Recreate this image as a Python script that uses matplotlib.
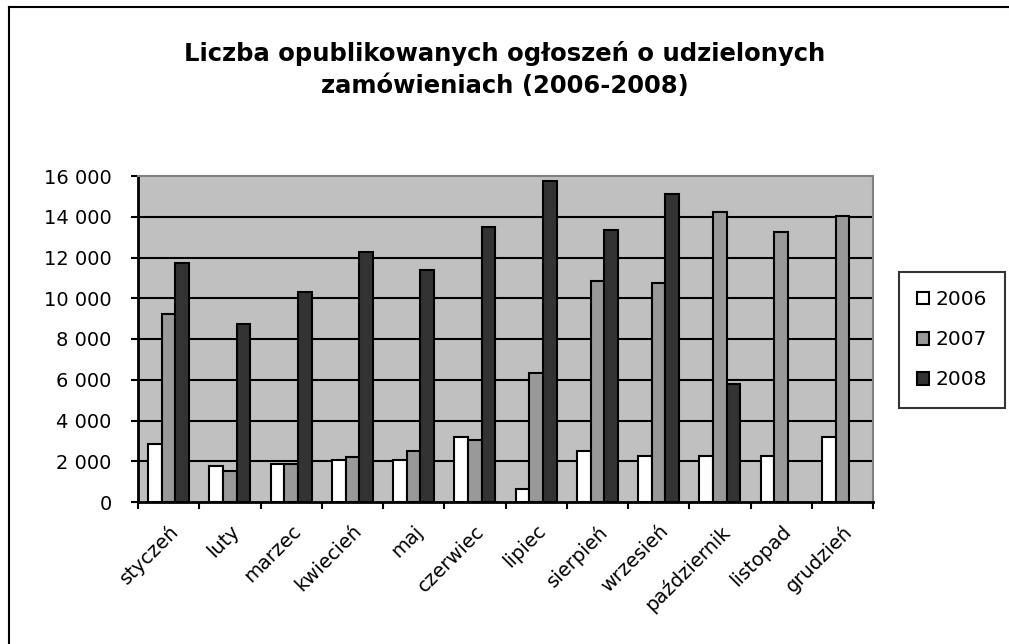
import numpy as np
import matplotlib
matplotlib.use("Agg")
import matplotlib.pyplot as plt
from matplotlib.lines import Line2D
from matplotlib.ticker import FuncFormatter

# Data
months = ["styczeń", "luty", "marzec", "kwiecień", "maj", "czerwiec",
          "lipiec", "sierpień", "wrzesień", "październik", "listopad", "grudzień"]
years = ["2006", "2007", "2008"]
v2006 = [2850, 1770, 1850, 2080, 2080, 3170, 620, 2520, 2280, 2280, 2280, 3170]
v2007 = [9210, 1520, 1850, 2190, 2520, 3060, 6350, 10830, 10730, 14230, 13250, 14020]
v2008 = [11730, 8750, 10310, 12290, 11400, 13480, 15770, 13370, 15130, 5810, np.nan, np.nan]

colors = ["#FFFFFF", "#999999", "#333333"]

plt.rcParams['font.family'] = ['DejaVu Sans']

W, H = 1009, 644
fig = plt.figure(figsize=(W / 100, H / 100), dpi=100)
fig.patch.set_facecolor("white")

# outer frame (left and top edges visible)
fig.add_artist(Line2D([8.5 / W, 8.5 / W], [0, 1 - 6.5 / H], transform=fig.transFigure, color="black", lw=1.5))
fig.add_artist(Line2D([8.5 / W, 1], [1 - 6.5 / H, 1 - 6.5 / H], transform=fig.transFigure, color="black", lw=1.5))

ax = fig.add_axes([138 / W, 1 - 502 / H, 735 / W, 326 / H])
ax.set_facecolor("#C0C0C0")

x = np.arange(len(months))
bw = 1 / 4.5
for i, (vals, c) in enumerate(zip([v2006, v2007, v2008], colors)):
    ax.bar(x + (i - 1) * bw, vals, width=bw, color=c, edgecolor="black",
           linewidth=1.5, label=years[i], zorder=3)

ax.set_xlim(-0.5, len(months) - 0.5)
ax.set_ylim(0, 16000)
ax.set_yticks(np.arange(0, 16001, 2000))
ax.yaxis.set_major_formatter(FuncFormatter(lambda v, p: f"{int(v):,}".replace(",", " ")))
for yv in range(2000, 16000, 2000):
    ax.axhline(yv, color="black", lw=1.5, zorder=1)

ax.set_xticks(x)
ax.set_xticklabels(months, rotation=45, ha="right", rotation_mode="anchor", fontsize=14)
ax.set_xticks(np.arange(-0.5, len(months), 1), minor=True)
ax.tick_params(axis="x", which="major", length=0, pad=14)
ax.tick_params(axis="x", which="minor", length=5, width=1.5, direction="out")
ax.tick_params(axis="y", length=5, width=1.5, direction="out", labelsize=14, pad=14)

for s in ["left", "bottom"]:
    ax.spines[s].set_color("black")
    ax.spines[s].set_linewidth(2)
for s in ["top", "right"]:
    ax.spines[s].set_color("#808080")
    ax.spines[s].set_linewidth(1.5)

fig.text(505 / W, 1 - 69.5 / H,
         "Liczba opublikowanych ogłoszeń o udzielonych\nzamówieniach (2006-2008)",
         ha="center", va="center", fontsize=17.5, fontweight="bold", linespacing=1.45)

leg = fig.legend(loc="upper left", bbox_to_anchor=(899 / W, 1 - 272 / H),
                 frameon=True, fancybox=False, edgecolor="black", fontsize=14.5,
                 handlelength=0.6, handleheight=0.6, handletextpad=0.3,
                 labelspacing=1.05, borderpad=0.9, borderaxespad=0)
leg.get_frame().set_linewidth(1.5)

fig.savefig("out.png", dpi=100)
